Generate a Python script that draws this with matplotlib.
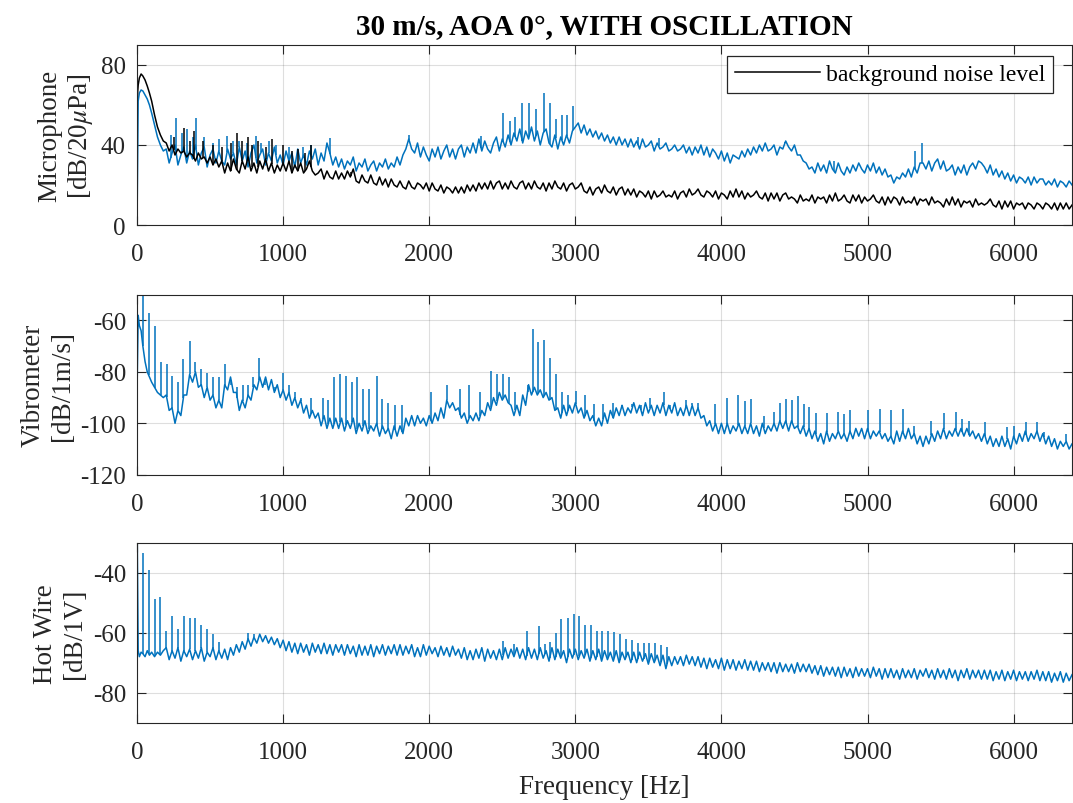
import numpy as np
import matplotlib
matplotlib.use("Agg")
import matplotlib.pyplot as plt

# Frequency grid: fine steps near 0 Hz, then every 20 Hz
freq_head = [0, 8, 16, 28, 40, 55, 70, 85, 100, 120, 140, 160, 180]
freq = np.concatenate([freq_head, np.arange(200, 6401, 20)])

# Microphone with oscillation [dB/20uPa]
mic = [0, 62, 66, 67.5, 67, 65, 63, 60, 56, 50, 44, 40, 37,
       38, 31, 36, 40, 30, 35, 39, 31, 37, 33, 40, 30, 36, 39, 29, 35, 38, 31, 37, 32,
       30, 38, 33, 36, 30, 39, 32, 37, 29, 36, 40, 31, 35, 38, 30, 36, 32, 39, 31, 35,
       30, 37, 32, 36, 29, 38, 31, 35, 30, 37, 33, 38, 30, 36, 32, 41, 36, 30, 34, 29,
       33, 28, 32, 30, 34, 27, 31, 29, 33, 27, 30, 32, 27, 31, 29, 33, 28, 31, 29, 34,
       30, 35, 38, 43, 38, 36, 41, 34, 39, 35, 32, 38, 34, 39, 33, 37, 40, 34, 38, 33,
       38, 40, 34, 39, 36, 41, 36, 43, 37, 42, 38, 36, 41, 44, 37, 43, 39, 45, 40, 46,
       42, 48, 41, 47, 43, 49, 42, 47, 40, 46, 48, 41, 39, 45, 38, 44, 40, 45, 41, 47,
       49, 51, 46, 50, 45, 48, 44, 47, 43, 46, 42, 45, 41, 44, 40, 44, 40, 43, 39, 43,
       39, 42, 38, 43, 39, 40, 42, 37, 41, 38, 39, 41, 37, 38, 40, 37, 38, 40, 36, 39,
       35, 39, 36, 40, 35, 39, 34, 38, 36, 33, 37, 32, 36, 31, 35, 34, 33, 37, 34, 38,
       35, 39, 36, 40, 37, 41, 37, 38, 40, 35, 39, 38, 42, 39, 37, 40, 35, 35, 32, 31,
       28, 29, 26, 31, 27, 30, 26, 32, 28, 26, 31, 27, 25, 29, 26, 30, 27, 31, 28, 26,
       30, 27, 31, 26, 29, 25, 28, 24, 25, 21, 24, 23, 26, 24, 28, 24, 29, 26, 31, 31,
       28, 32, 27, 31, 33, 28, 32, 27, 28, 30, 25, 29, 26, 30, 25, 29, 31, 28, 32, 31,
       29, 26, 30, 25, 28, 24, 27, 23, 26, 22, 25, 21, 24, 23, 21, 24, 20, 24, 21, 23,
       23, 20, 22, 20, 23, 19, 22, 21, 19, 22, 20]
mic_spike_f = [230, 270, 305, 345, 380, 404, 460, 520, 560, 616, 660, 700, 750,
               815, 850, 900, 950, 1040, 1133, 1190, 1321, 1862, 2355, 2508,
               2555, 2590, 2637, 2685, 2730, 2785, 2825, 2865, 2907, 2943, 2985,
               3430, 3570, 4436, 4768, 5328, 5370, 5761]
mic_spike_v = [45, 53.5, 46, 48, 44, 53.5, 44, 41, 43, 44.5, 42, 42, 41,
               44.5, 41, 42, 40, 39, 39, 40, 43.5, 45, 44.5, 56,
               52, 54, 61, 61, 58, 66, 61, 53, 55, 55, 59.5,
               44, 43.7, 41.5, 32, 37, 41, 32]

# Background noise level [dB/20uPa]
noise = [62, 70, 73.5, 75.5, 74.5, 72.5, 69.5, 66, 62, 55, 49, 45, 42,
         41, 37, 40, 35, 38, 36, 37, 34, 36, 35, 32, 36, 33, 34, 31, 34, 30, 33, 29, 32,
         26, 31, 27, 33, 28, 26, 32, 28, 34, 27, 31, 26, 32, 28, 33, 27, 31, 26, 30, 27,
         31, 27, 32, 26, 30, 27, 31, 26, 28, 32, 27, 25, 26, 28, 23, 27, 24, 23, 27, 23,
         26, 23, 27, 24, 28, 22, 21, 25, 22, 21, 25, 21, 20, 24, 20, 23, 19, 23, 20, 19,
         22, 19, 18, 22, 19, 18, 21, 20, 18, 21, 17, 21, 18, 17, 20, 16, 19, 18, 16, 19,
         16, 19, 16, 20, 17, 20, 17, 21, 18, 21, 18, 22, 18, 21, 22, 18, 21, 18, 22, 19,
         18, 21, 22, 18, 21, 18, 22, 19, 18, 21, 17, 21, 18, 22, 19, 18, 21, 17, 20, 21,
         18, 19, 21, 17, 16, 19, 15, 18, 19, 16, 20, 17, 16, 19, 15, 18, 19, 15, 18, 15,
         18, 14, 17, 16, 14, 17, 13, 17, 14, 15, 17, 14, 15, 14, 17, 13, 16, 17, 14, 18,
         15, 16, 18, 15, 14, 17, 16, 14, 17, 13, 16, 15, 13, 17, 14, 18, 14, 17, 13, 16,
         14, 15, 17, 14, 13, 16, 12, 16, 13, 16, 12, 15, 16, 13, 14, 13, 11, 15, 12, 13,
         12, 15, 11, 14, 13, 14, 11, 15, 12, 16, 12, 13, 15, 12, 11, 15, 12, 15, 11, 14,
         12, 13, 15, 12, 11, 14, 10, 14, 11, 14, 13, 10, 14, 11, 12, 11, 14, 10, 13, 12,
         13, 10, 14, 11, 12, 11, 9, 13, 10, 14, 10, 13, 9, 12, 11, 12, 9, 13, 10, 11,
         10, 11, 13, 10, 9, 12, 8, 12, 9, 12, 8, 11, 10, 11, 8, 11, 10, 8, 11, 10,
         8, 11, 10, 8, 11, 7.5, 11, 8, 11, 8, 10]
noise_spike_f = [250, 322, 360, 393, 450, 520, 580, 640, 686, 720, 757, 790,
                 830, 880, 922, 1000, 1060, 1100, 1150, 1192, 1462]
noise_spike_v = [44, 48.5, 42, 47, 42, 40, 39, 41, 46, 42, 44, 40,
                 42, 39, 43, 40, 37, 38, 36, 40, 26.5]

# Vibrometer [dB/1m/s]
vib = [-88, -58, -62, -64, -70, -76, -80, -82, -84, -86, -88, -89, -90,
       -89, -95, -94, -100, -95, -97, -89, -89, -81, -84, -80, -86, -85, -90, -86, -91, -89, -94, -91, -94,
       -85, -87, -82, -88, -88, -95, -91, -94, -89, -91, -85, -87, -82, -86, -82, -87, -83, -88, -85, -90,
       -87, -91, -88, -93, -90, -94, -91, -96, -93, -98, -95, -98, -96, -101, -97, -102, -98, -102, -98, -102,
       -98, -103, -99, -102, -98, -104, -100, -103, -99, -104, -101, -103, -100, -105, -101, -104, -102, -106, -101, -105,
       -101, -104, -98, -101, -97, -101, -97, -100, -98, -101, -97, -100, -96, -99, -94, -98, -91, -94, -92, -95,
       -94, -98, -96, -100, -97, -99, -96, -99, -95, -97, -92, -95, -90, -93, -88, -91, -89, -92, -93, -97,
       -93, -97, -89, -93, -85, -89, -86, -89, -87, -90, -88, -91, -90, -95, -94, -98, -93, -97, -93, -96,
       -92, -96, -94, -98, -95, -99, -97, -101, -98, -101, -96, -100, -95, -98, -94, -97, -93, -97, -94, -96,
       -92, -96, -93, -97, -92, -96, -93, -97, -93, -96, -92, -97, -93, -96, -92, -97, -94, -97, -93, -97,
       -93, -97, -94, -98, -97, -101, -99, -103, -100, -104, -100, -104, -100, -104, -101, -103, -100, -104, -101, -104,
       -100, -104, -101, -105, -100, -104, -101, -103, -100, -103, -99, -102, -99, -103, -99, -102, -101, -104, -101, -105,
       -102, -106, -103, -107, -104, -108, -103, -107, -104, -106, -103, -106, -104, -107, -103, -106, -102, -105, -102, -106,
       -102, -106, -103, -105, -103, -106, -104, -107, -105, -108, -103, -107, -103, -106, -102, -106, -104, -108, -105, -109,
       -105, -108, -104, -107, -103, -106, -102, -106, -103, -105, -102, -105, -102, -105, -102, -105, -103, -106, -104, -107,
       -104, -108, -105, -109, -106, -109, -105, -109, -106, -110, -105, -108, -104, -107, -103, -107, -104, -106, -103, -107,
       -104, -108, -105, -109, -106, -110, -107, -109, -107, -110, -108]
vib_spike_f = [40, 80, 122, 162, 202, 240, 280, 317, 360, 400, 440, 480, 520,
               560, 604, 644, 686, 722, 757, 797, 835, 875, 945, 1000, 1039,
               1079, 1121, 1192, 1274, 1309, 1349, 1392, 1432, 1472, 1509,
               1549, 1591, 1643, 1674, 1721, 1768, 1815, 2015, 2120, 2214,
               2273, 2350, 2426, 2466, 2508, 2543, 2590, 2673, 2707, 2747,
               2785, 2825, 2865, 2908, 2948, 3002, 3066, 3130, 3190, 3260,
               3320, 3391, 3450, 3514, 3604, 3650, 3757, 3800, 3840, 3959,
               4041, 4116, 4160, 4200, 4290, 4357, 4401, 4444, 4484, 4522,
               4562, 4597, 4645, 4721, 4801, 4839, 4882, 5005, 5083, 5161,
               5242, 5320, 5438, 5521, 5603, 5650, 5698, 5805, 5958, 6005,
               6087, 6163, 6206, 6360]
vib_spike_v = [-50, -57, -62, -76, -77, -81.5, -84, -75, -68, -76, -79, -80.5, -82,
               -82, -77, -85, -86, -85, -85, -82, -74.5, -85, -86, -80.5, -85,
               -88, -90, -90, -90, -91, -82, -81, -81.5, -84, -82,
               -86.5, -86.5, -81.5, -90.5, -92, -93, -93, -88, -85, -86.5,
               -85, -88, -79.5, -81, -81, -82, -88, -85, -63.5, -68.5,
               -67.5, -74.5, -81, -88, -89, -87.5, -89, -92.5, -92.5, -92,
               -94, -92.5, -93, -90, -88, -93, -91, -92, -92, -92.5,
               -90, -89, -91.5, -90.5, -97, -95.5, -92, -90.5, -91, -89.5,
               -92.5, -93.5, -96, -96, -95.5, -96.5, -95, -95, -94.5, -95,
               -94.5, -101, -99, -96, -95.5, -98.5, -99, -99.5, -101.5, -101,
               -99.5, -99.5, -103.5, -104]

# Hot wire [dB/1V]
hw = [-20, -66, -68, -66.5, -67, -68, -66, -67.5, -66.5, -68, -66.5, -67.5, -66,
      -65, -69, -66, -68.5, -65, -69.5, -66, -68, -65.5, -69, -66, -68.5, -65, -69.5, -66.5, -68, -65, -69, -66, -68.5,
      -65.5, -69, -65, -67.5, -64, -66.5, -63, -65.5, -62, -64.5, -61.5, -63.5, -60.5, -63, -61, -63.5, -61.5, -64, -62, -65,
      -62.5, -66, -63, -66.5, -63.5, -67, -63.5, -66.5, -64, -67.5, -63.5, -66.5, -64, -67, -63.5, -67, -64, -67.5, -64, -66.5,
      -64, -67.5, -64, -67, -64.5, -68, -64, -67.5, -64.5, -67.5, -64, -68, -64.5, -67, -64, -67.5, -64.5, -67, -64, -67.5,
      -64, -67.5, -64.5, -67, -64, -68, -65, -68, -64, -67.5, -64.5, -67, -65, -68, -64.5, -67.5, -65, -68, -64.5, -67.5,
      -65.5, -68.5, -65, -69, -66, -69, -65.5, -68.5, -65, -69.5, -65.5, -68.5, -66, -69, -65.5, -69, -65, -68.5, -65.5, -68,
      -65, -68.5, -65.5, -69, -65, -68.5, -65.5, -69, -65, -68.5, -66, -69.5, -65, -69, -65.5, -68.5, -66, -70, -65.5, -68.5,
      -65.5, -69, -66, -68.5, -65.5, -69.5, -66, -69, -65.5, -69.5, -66, -69, -66.5, -69.5, -66, -70, -66.5, -69, -66.5, -70,
      -66.5, -70, -66.5, -69.5, -67, -70.5, -67, -70, -67.5, -71, -67.5, -72, -68, -71, -68, -70.5, -68, -71, -67.5, -70.5,
      -68, -71, -68, -71.5, -68.5, -72, -68.5, -71.5, -69, -72, -68.5, -72.5, -69, -72, -69, -72.5, -69.5, -72, -69, -72.5,
      -69.5, -72.5, -69.5, -73, -70, -72.5, -70, -73, -70, -73.5, -70, -73, -70.5, -73, -70.5, -73.5, -70, -73, -70.5, -73,
      -70.5, -73.5, -71, -74, -71, -74.5, -71.5, -74, -71.5, -74.5, -71.5, -75, -71.5, -74.5, -72, -75, -71.5, -74.5, -72, -74.5,
      -72, -75, -71.5, -74.5, -72, -75.5, -72, -75, -72, -75, -72.5, -75.5, -72, -75, -72.5, -75, -72, -75.5, -72.5, -74.5,
      -72, -75, -72.5, -75.5, -72, -75, -72.5, -75.5, -72, -75, -72.5, -76, -72.5, -75, -72, -75.5, -72.5, -75, -72.5, -75.5,
      -72.5, -75.5, -72.5, -76, -73, -75.5, -72.5, -76, -73, -75.5, -72.5, -76, -73, -75.5, -73, -76, -73, -75.5, -72.5, -76,
      -73, -76, -73, -76.5, -73.5, -76, -73, -76.5, -73.5, -76, -74]
hw_spike_f = [40, 82, 122, 160, 200, 240, 280, 320, 360, 400, 440, 480, 520,
              560, 760, 800, 2508, 2583, 2666, 2749, 2790, 2825, 2865, 2905,
              2948, 2988, 3028, 3066, 3106, 3146, 3186, 3226, 3266, 3306,
              3346, 3386, 3427, 3467, 3507, 3547, 3587, 3627]
hw_spike_v = [-33.4, -39, -48.8, -48, -59.6, -54.6, -58.8, -54.3, -55.2, -55, -57.3, -58.8, -60.6,
              -63, -60, -60.5, -62.7, -63.8, -59.3, -57.7, -63.8, -63, -60.1, -55.4,
              -55.2, -53.8, -54.3, -57.4, -57.4, -59.3, -59.3, -59.5, -59.8, -60.4,
              -62, -62.3, -63.6, -63.6, -63.3, -63.6, -64.2, -64.7]

blue = "#0072BD"
dark = "#262626"

plt.rcParams["font.family"] = ["Liberation Serif", "DejaVu Serif"]
plt.rcParams["mathtext.fontset"] = "stix"
plt.rcParams["axes.unicode_minus"] = False
plt.rcParams["font.size"] = 18

fig = plt.figure(figsize=(10.73, 8.04), dpi=100)
boxes = [(0.1277, 0.7189), (0.1277, 0.4083), (0.1277, 0.0999)]
axes = [fig.add_axes([x0, y0, 0.8714, 0.2239]) for x0, y0 in boxes]


def spikes(ax, sf, sv, base, color):
    sf = np.asarray(sf, dtype=float)
    foot = np.interp(sf, freq, base)
    ax.vlines(sf, foot, sv, color=color, lw=1.1)


ax = axes[0]
ax.plot(freq, mic, color=blue, lw=1.1)
spikes(ax, mic_spike_f, mic_spike_v, mic, blue)
line_bg, = ax.plot(freq, noise, color="black", lw=1.1, label="background noise level")
spikes(ax, noise_spike_f, noise_spike_v, noise, "black")
ax.set_ylim(0, 90)
ax.set_yticks([0, 40, 80])
ax.set_ylabel("Microphone\n[dB/20$\\mu$Pa]", fontsize=19.5)
ax.set_title("30 m/s, AOA 0°, WITH OSCILLATION", fontweight="bold", fontsize=21, pad=8)
leg = ax.legend(handles=[line_bg], loc="upper right", bbox_to_anchor=(0.9794, 0.937),
                borderaxespad=0, fancybox=False, fontsize=17, handlelength=3.6,
                handletextpad=0.25, borderpad=0.32, framealpha=1)
leg.get_frame().set_edgecolor(dark)
leg.get_frame().set_linewidth(0.9)

ax = axes[1]
ax.plot(freq, vib, color=blue, lw=1.1)
spikes(ax, vib_spike_f, vib_spike_v, vib, blue)
ax.set_ylim(-120, -50)
ax.set_yticks([-120, -100, -80, -60])
ax.set_ylabel("Vibrometer\n[dB/1m/s]", fontsize=19.5)

ax = axes[2]
ax.plot(freq, hw, color=blue, lw=1.1)
spikes(ax, hw_spike_f, hw_spike_v, hw, blue)
ax.set_ylim(-90, -30)
ax.set_yticks([-80, -60, -40])
ax.set_ylabel("Hot Wire\n[dB/1V]", fontsize=19.5)
ax.set_xlabel("Frequency [Hz]", color=dark, fontsize=19.5, labelpad=8)

for ax in axes:
    ax.set_xlim(0, 6400)
    ax.set_xticks([0, 1000, 2000, 3000, 4000, 5000, 6000])
    ax.grid(True, color=dark, alpha=0.15, lw=0.8)
    ax.set_axisbelow(True)
    ax.tick_params(direction="in", length=6.5, width=0.8, top=True, right=True,
                   colors=dark, labelsize=18)
    ax.tick_params(axis="x", pad=13)
    ax.tick_params(axis="y", pad=8)
    for s in ax.spines.values():
        s.set_color(dark)
        s.set_linewidth(0.8)
    ax.yaxis.label.set_color(dark)

fig.savefig("out.png", dpi=100)
